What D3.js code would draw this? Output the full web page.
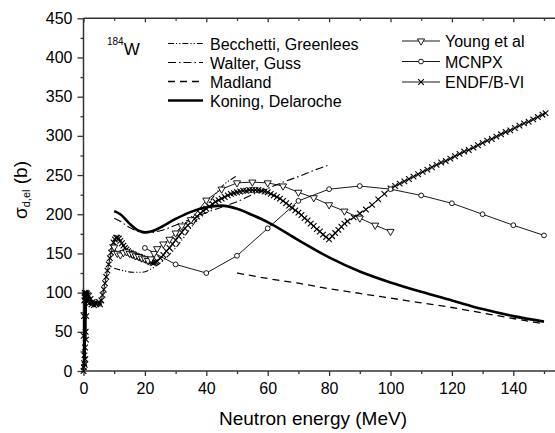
<!DOCTYPE html>
<html>
<head>
<meta charset="utf-8">
<script src="https://cdn.jsdelivr.net/npm/d3@7"></script>
<style>
  body { margin: 0; background: #fff; }
  text { font-family: Arial, "Liberation Sans", sans-serif; fill: #000; }
</style>
</head>
<body>
<div id="chart"></div>
<script>
// --- data (energy in MeV, cross section in b) ---

var koningE = [10, 12, 15, 18, 20, 22, 25, 30, 35, 40, 45, 50, 55, 60, 70, 80, 90, 100, 110, 120, 130, 140, 150];
var koningS = [204, 200, 188, 179, 177, 178, 183, 194, 203, 209, 211, 207, 199, 190, 167, 145, 127, 113, 101, 90, 79, 70, 63];

var madlandE = [50, 60, 70, 80, 90, 100, 110, 120, 130, 140, 150];
var madlandS = [125, 118, 112, 105, 99, 93, 87, 81, 74, 67, 60];

var walterE = [10, 12, 15, 18, 20, 25, 30, 35, 40, 45, 50, 55, 60, 65, 70, 75, 80];
var walterS = [195, 191, 183, 178, 176, 179, 186, 194, 202, 209, 216, 225, 233, 241, 248, 256, 263];

var becchettiE = [10, 13, 16, 19, 22, 25, 30, 35, 40, 45, 50];
var becchettiS = [131, 128, 126, 126, 130, 138, 157, 183, 210, 235, 249];

var youngE = [10, 11, 12, 13, 14, 15, 16, 17, 18, 19, 20, 21, 22, 23, 24, 26, 28, 30, 32, 35,
  40, 45, 50, 55, 60, 65, 70, 75, 80, 85, 90, 95, 100];
var youngS = [158, 150, 148, 151, 152, 150, 149, 147, 146, 144, 143, 141, 143, 150, 156, 162, 168, 176, 185, 193,
  218, 232, 240, 241, 240, 236, 228, 221, 212, 204, 195, 186, 178];

var mcnpxE = [20, 30, 40, 50, 60, 70, 80, 90, 100, 110, 120, 130, 140, 150];
var mcnpxS = [157, 136, 125, 147, 182, 217, 232, 236, 232, 224, 214, 200, 186, 173];

var endfE = [0, 0.05, 0.1, 0.15, 0.2, 0.25, 0.3, 0.35, 0.4, 0.45, 0.5, 0.55, 0.6, 0.65, 0.7, 0.75, 0.8, 0.85, 0.9, 0.95,
  1.0, 1.1, 1.2, 1.4, 1.6, 1.8, 2.0, 2.3, 2.6, 3.0,
  3.4, 3.8, 4.2, 4.6, 5.0, 5.4, 5.8, 6.2, 6.6, 7.0, 7.4, 7.8, 8.2, 8.6, 9.0, 9.4, 9.8, 10.2, 10.6, 11.0,
  11.5, 12, 12.5, 13, 13.5, 14, 14.5, 15, 15.5, 16, 16.5, 17, 17.5, 18, 18.5, 19, 19.5, 20, 20.5, 21,
  21.5, 22, 22.5, 23, 23.5, 24, 25, 26, 27, 28, 29, 30, 31, 32, 33, 34, 35, 36, 37, 38,
  39, 40, 41, 42, 43, 44, 45, 46, 47, 48, 49, 50, 51, 52, 53, 54, 55, 56, 57, 58,
  59, 60, 61, 62, 63, 64, 65, 66, 67, 68, 69, 70, 71, 72, 73, 74, 75, 76, 77, 78,
  79, 80, 81, 82, 83, 84, 85, 86, 88, 90, 92, 94, 96, 98, 100, 101.5, 103, 104.5, 106, 107.5,
  109, 110.5, 112, 113.5, 115, 116.5, 118, 119.5, 121, 122.5, 124, 125.5, 127, 128.5, 130, 131.5, 133, 134.5, 136, 137.5,
  139, 140.5, 142, 143.5, 145, 146.5, 148, 149.5, 150.5];
var endfS = [0, 45, 5, 70, 10, 90, 20, 100, 8, 95, 30, 99, 15, 97, 50, 100, 40, 96, 70, 98,
  92, 99, 88, 97, 90, 96, 87, 92, 85, 88,
  84, 87, 85, 86, 88, 85, 90, 97, 104, 112, 120, 128, 136, 144, 151, 158, 164, 168, 170, 170,
  169, 166, 163, 160, 157, 155, 153, 151, 150, 149, 148, 147, 146, 146, 145, 144, 143, 143, 142, 141,
  140, 139, 138, 138, 139, 140, 144, 148, 153, 157, 162, 167, 172, 177, 182, 186, 190, 194, 197, 201,
  204, 207, 210, 213, 216, 218, 220, 222, 224, 226, 227, 228, 229, 230, 230, 231, 231, 231, 231, 230,
  229, 228, 226, 224, 222, 220, 217, 214, 211, 208, 205, 202, 199, 195, 192, 188, 185, 181, 178, 174,
  171, 168, 172, 176, 180, 184, 188, 191, 196, 201, 206, 212, 219, 226, 233, 236, 239, 242, 245, 248,
  251, 254, 257, 260, 263, 266, 268, 271, 274, 277, 280, 282, 285, 288, 291, 294, 296, 299, 302, 305,
  307, 310, 313, 316, 318, 321, 324, 327, 329];

var xMajor = [0, 20, 40, 60, 80, 100, 120, 140];
var xMinor = [10, 30, 50, 70, 90, 110, 130, 150];
var yMajor = [0, 50, 100, 150, 200, 250, 300, 350, 400, 450];
var yMinor = [25, 75, 125, 175, 225, 275, 325, 375, 425];

var legendLeft = ["Becchetti, Greenlees", "Walter, Guss", "Madland", "Koning, Delaroche"];
var legendRight = ["Young et al", "MCNPX", "ENDF/B-VI"];

function chart() {
  var pxX = 555, pxY = 433;
  var svg = d3.select("#chart").append("svg")
    .attr("width", pxX)
    .attr("height", pxY);
  svg.append("rect").attr("width", pxX).attr("height", pxY).attr("fill", "#fff");

  var scX = d3.scaleLinear().domain([0, 150]).range([83.5, 544]);
  var scY = d3.scaleLinear().domain([0, 450]).range([371, 18.3]);

  var pairs = (xs, ys) => xs.map((x, i) => [x, ys[i]]);

  // --- axes ---

  var axisColor = "#333";
  var styleAxis = function(g) {
    g.selectAll("path.domain").remove();
    g.selectAll("line").attr("stroke", axisColor).attr("stroke-width", 1.3);
    g.selectAll("text").style("font-size", "16px").attr("fill", "#000");
  };

  svg.append("g")
    .attr("transform", "translate(83.5,0)")
    .call(d3.axisLeft(scY).tickValues(yMajor).tickSize(6).tickPadding(5).tickFormat(d3.format("d")))
    .call(styleAxis);
  svg.append("g")
    .attr("transform", "translate(83.5,0)")
    .call(d3.axisLeft(scY).tickValues(yMinor).tickSize(3).tickFormat(""))
    .call(styleAxis);

  svg.append("g")
    .attr("transform", "translate(0,371)")
    .call(d3.axisBottom(scX).tickValues(xMajor).tickSize(5).tickPadding(7).tickFormat(d3.format("d")))
    .call(styleAxis);
  svg.append("g")
    .attr("transform", "translate(0,371)")
    .call(d3.axisBottom(scX).tickValues(xMinor).tickSize(3).tickFormat(""))
    .call(styleAxis);

  // top frame with inner ticks
  svg.append("g")
    .attr("transform", "translate(0,18.3)")
    .call(d3.axisTop(scX).tickValues(xMajor).tickSize(-4).tickFormat(""))
    .call(styleAxis);
  svg.append("g")
    .attr("transform", "translate(0,18.3)")
    .call(d3.axisTop(scX).tickValues(xMinor).tickSize(-2.5).tickFormat(""))
    .call(styleAxis);

  var frame = svg.append("g").attr("stroke", axisColor).attr("stroke-width", 1.5);
  frame.append("line").attr("x1", 83.5).attr("x2", pxX).attr("y1", 371).attr("y2", 371);
  frame.append("line").attr("x1", 83.5).attr("x2", pxX).attr("y1", 18.3).attr("y2", 18.3);
  frame.append("line").attr("x1", 83.5).attr("x2", 83.5).attr("y1", 18.3).attr("y2", 371);

  // --- axis titles ---

  svg.append("text")
    .attr("x", 313).attr("y", 425)
    .attr("text-anchor", "middle")
    .style("font-size", "19px")
    .text("Neutron energy (MeV)");

  var yt = svg.append("text")
    .attr("transform", "translate(27,190) rotate(-90)")
    .attr("text-anchor", "middle")
    .style("font-size", "19px");
  yt.append("tspan").text("σ");
  yt.append("tspan").attr("dy", 3).style("font-size", "11px").text("d,el");
  yt.append("tspan").attr("dy", -3).text(" (b)");

  var iso = svg.append("text").attr("x", 107).attr("y", 55).style("font-size", "17px");
  iso.append("tspan").attr("dy", -10).style("font-size", "10px").text("184");
  iso.append("tspan").attr("dy", 10).text("W");

  // --- model curves ---

  var line = d3.line()
    .curve(d3.curveMonotoneX)
    .x(d => scX(d[0]))
    .y(d => scY(d[1]));
  var lineLin = d3.line()
    .x(d => scX(d[0]))
    .y(d => scY(d[1]));

  var models = [
    { xs: becchettiE, ys: becchettiS, w: 1.1, dash: "6,2,1.2,2,1.2,2" },
    { xs: walterE, ys: walterS, w: 1.1, dash: "8,3,1.5,3" },
    { xs: madlandE, ys: madlandS, w: 1.3, dash: "7,5" },
    { xs: koningE, ys: koningS, w: 2.6, dash: null }
  ];

  models.forEach(function(m) {
    svg.append("path")
      .attr("fill", "none")
      .attr("stroke", "#000")
      .attr("stroke-width", m.w)
      .attr("stroke-dasharray", m.dash)
      .attr("d", line(pairs(m.xs, m.ys)));
  });

  // --- data series with markers ---

  var triDown = d3.symbol().type(d3.symbolTriangle).size(22);
  var drawTri = function(g, x, y) {
    g.append("path")
      .attr("d", triDown())
      .attr("transform", `translate(${x},${y}) rotate(180)`)
      .attr("fill", "#fff").attr("stroke", "#000").attr("stroke-width", 0.9);
  };
  var drawCirc = function(g, x, y) {
    g.append("circle").attr("cx", x).attr("cy", y).attr("r", 2.4)
      .attr("fill", "#fff").attr("stroke", "#000").attr("stroke-width", 0.9);
  };
  var drawCross = function(g, x, y) {
    var s = 2.8;
    g.append("path")
      .attr("d", `M${x - s},${y - s}L${x + s},${y + s}M${x - s},${y + s}L${x + s},${y - s}`)
      .attr("stroke", "#000").attr("stroke-width", 1.1);
  };

  var series = [
    { xs: endfE, ys: endfS, mark: drawCross },
    { xs: mcnpxE, ys: mcnpxS, mark: drawCirc },
    { xs: youngE, ys: youngS, mark: drawTri }
  ];

  series.forEach(function(s) {
    var g = svg.append("g");
    g.append("path")
      .attr("fill", "none")
      .attr("stroke", "#000")
      .attr("stroke-width", 0.9)
      .attr("d", lineLin(pairs(s.xs, s.ys)));
    s.xs.forEach((x, i) => s.mark(g, scX(x), scY(s.ys[i])));
  });

  // --- legends ---

  var lgL = svg.append("g");
  legendLeft.forEach(function(name, i) {
    var y = 43.5 + i * 19;
    var m = models[i];
    lgL.append("line")
      .attr("x1", 168).attr("x2", 203).attr("y1", y).attr("y2", y)
      .attr("stroke", "#000").attr("stroke-width", m.w)
      .attr("stroke-dasharray", m.dash);
    lgL.append("text").attr("x", 210).attr("y", y + 6)
      .style("font-size", "16px").text(name);
  });

  var lgR = svg.append("g");
  var marks = [drawTri, drawCirc, drawCross];
  legendRight.forEach(function(name, i) {
    var y = 41 + i * 20.5;
    lgR.append("line")
      .attr("x1", 402).attr("x2", 440).attr("y1", y).attr("y2", y)
      .attr("stroke", "#000").attr("stroke-width", 0.9);
    marks[i](lgR, 421, y);
    lgR.append("text").attr("x", 445).attr("y", y + 6)
      .style("font-size", "16px").text(name);
  });
}

chart();
</script>
</body>
</html>
